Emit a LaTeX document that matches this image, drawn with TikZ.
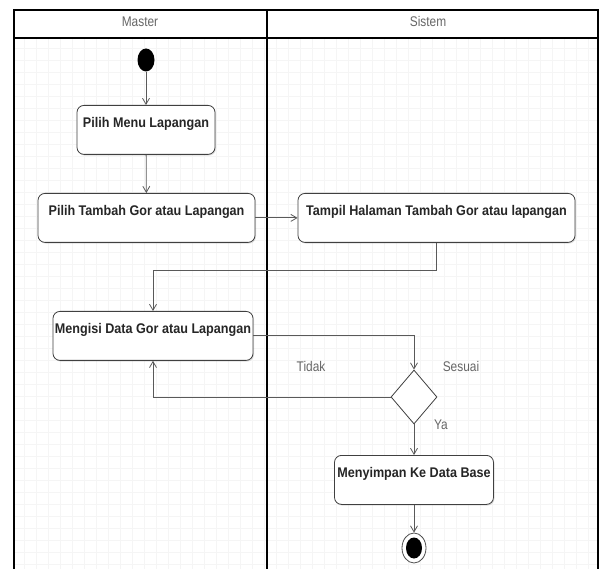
\documentclass[tikz,border=0pt]{standalone}
\usepackage{fontspec}
\setmainfont{Liberation Sans}
\newfontfamily\actfont[FakeStretch=0.9]{Liberation Sans}
\newfontfamily\lblfont[FakeStretch=0.85]{Liberation Sans}
\usetikzlibrary{shapes.geometric,arrows.meta,shadows}
\begin{document}
\begin{tikzpicture}[x=1pt,y=-1pt,
  lane/.style={draw=black, line width=1.6pt},
  act/.style={draw=black!75, line width=0.8pt, rounded corners=7pt, fill=white,
    anchor=north, inner xsep=2pt, inner ysep=0.5pt, text height=22pt, text depth=26pt,
    font=\actfont\bfseries\fontsize{14}{16}\selectfont, text=black!85,
    drop shadow={opacity=0.25, shadow xshift=1pt, shadow yshift=-1.2pt}},
  flow/.style={draw=black!65, line width=0.8pt, -{Straight Barb[length=6pt,width=7pt]}},
  lbl/.style={font=\lblfont\fontsize{14}{16}\selectfont, text=black!60, inner sep=0pt},
  decision/.style={draw=black!75, line width=0.8pt, diamond, fill=white, inner sep=0pt,
    minimum width=46pt, minimum height=54pt},
  startdot/.style={ellipse, fill=black, minimum width=17pt, minimum height=23pt, inner sep=0pt},
  enddot/.style={ellipse, draw=black!70, line width=0.8pt, fill=white, minimum width=24pt, minimum height=30pt, inner sep=0pt}]

% page and background
\useasboundingbox (0,0) rectangle (600,569);
\fill[white] (0,0) rectangle (600,569);
\draw[black!4, line width=0.4pt] (14,38) grid[xstep=12pt, ystep=12pt] (598,569);

% swimlanes
\draw[lane] (14,569) -- (14,10) -- (598,10) -- (598,569);
\draw[lane] (267,10) -- (267,569);
\draw[lane] (14,38) -- (598,38);
\node[lbl] (hmaster) at (140,22) {Master};
\node[lbl] (hsistem) at (428,22) {Sistem};

% activities
\node[startdot] (start) at (146,60) {};
\node[act, minimum width=138pt] (n1) at (146,105) {Pilih Menu Lapangan};
\node[act, minimum width=217pt] (n2) at (146.5,193) {Pilih Tambah Gor atau Lapangan};
\node[act, minimum width=277pt] (n3) at (436.5,193) {Tampil Halaman Tambah Gor atau lapangan};
\node[act, minimum width=200pt] (n4) at (153,311) {Mengisi Data Gor atau Lapangan};
\node[decision] (d) at (414,397) {};
\node[act, minimum width=159pt] (n5) at (414,455) {Menyimpan Ke Data Base};
\node[enddot] (end) at (414,548) {};
\node[startdot, minimum width=16pt, minimum height=21pt] (enddisk) at (end.center) {};

% guard labels
\node[lbl] (tidak) at (311,366) {Tidak};
\node[lbl] (sesuai) at (461,366) {Sesuai};
\node[lbl] (ya) at (441,425) {Ya};

% control flow
\draw[flow] (start) -- (n1);
\draw[flow] (n1) -- (n2);
\draw[flow] (n2.east) -- (n3.west);
\draw[flow] (n3.south) -- ++(0,28) -| (n4.north);
\draw[flow] (n4.east) -| (d.north);
\draw[flow] (d.west) -| (n4.south);
\draw[flow] (d.south) -- (n5.north);
\draw[flow] (n5.south) -- (end.north);
\end{tikzpicture}
\end{document}
